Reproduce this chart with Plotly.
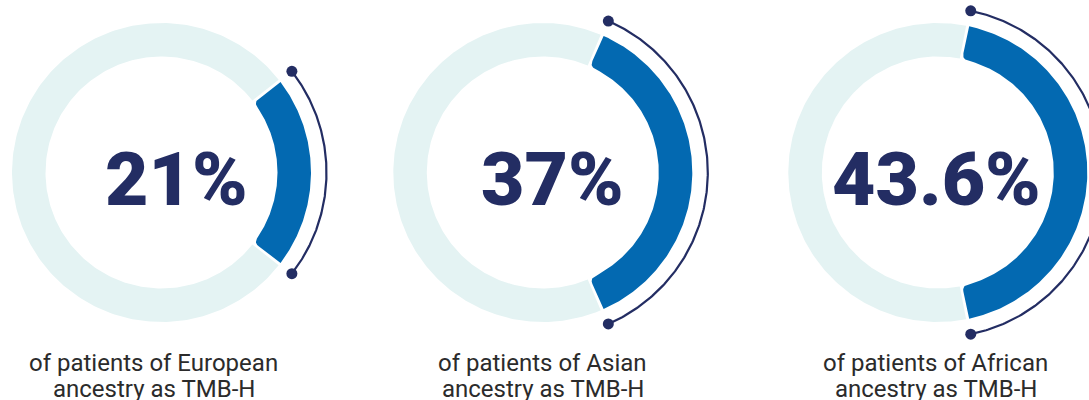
import numpy as np
import plotly.graph_objects as go

# Share of patients classed as TMB-H, by ancestry
groups = ["European", "Asian", "African"]
percents = [21, 37, 43.6]
value_labels = ["21%", "37%", "43.6%"]
caption_line1 = ["of patients of European", "of patients of Asian", "of patients of African"]
caption_line2 = ["ancestry as TMB-H", "ancestry as TMB-H", "ancestry as TMB-H"]

# Layout (pixel space, y grows downwards)
W, H = 1089, 400
centers_x = [161.5, 542.8, 937.8]
center_y = 172.5
R_OUT, R_IN = 149.5, 116.0
R_BRACKET = 165.0
GAP_DEG = 0.6
CORNER = 6.0
number_dx = [15, 10, -1]
caption_dx = [-8, 0, -2]

TRACK = "#e4f3f3"
BLUE = "#0369b1"
NAVY = "#232d63"
TEXT = "#2b2b2b"


def pt(cx, cy, r, deg):
    t = np.radians(deg)
    return cx + r * np.cos(t), cy - r * np.sin(t)


def ring_sector(cx, cy, r0, r1, a0, a1, n=240):
    a = np.linspace(a0, a1, n)
    xo, yo = pt(cx, cy, r1, a)
    xi, yi = pt(cx, cy, r0, a[::-1])
    xs = np.concatenate([xo, xi, xo[:1]])
    ys = np.concatenate([yo, yi, yo[:1]])
    return xs, ys


def quad(p0, c, p1, n=12):
    s = np.linspace(0, 1, n)[:, None]
    p0, c, p1 = map(np.asarray, (p0, c, p1))
    pts = (1 - s) ** 2 * p0 + 2 * (1 - s) * s * c + s ** 2 * p1
    return pts[:, 0], pts[:, 1]


def value_sector(cx, cy, half):
    # outer edge square, inner corners rounded
    a = np.linspace(-half, half, 200)
    xo, yo = pt(cx, cy, R_OUT, a)
    d = np.degrees(CORNER / R_IN)
    top = quad(pt(cx, cy, R_IN + CORNER, half), pt(cx, cy, R_IN, half),
               pt(cx, cy, R_IN, half - d))
    ai = np.linspace(half - d, -half + d, 200)
    xi, yi = pt(cx, cy, R_IN, ai)
    bot = quad(pt(cx, cy, R_IN, -half + d), pt(cx, cy, R_IN, -half),
               pt(cx, cy, R_IN + CORNER, -half))
    xs = np.concatenate([xo, top[0], xi, bot[0], xo[:1]])
    ys = np.concatenate([yo, top[1], yi, bot[1], yo[:1]])
    return xs, ys


fig = go.Figure()
annotations = []

for i, pct in enumerate(percents):
    cx, cy = centers_x[i], center_y
    half = pct / 100 * 180.0

    # background track (the remaining share)
    xs, ys = ring_sector(cx, cy, R_IN, R_OUT, half + GAP_DEG, 360 - half - GAP_DEG)
    fig.add_trace(go.Scatter(x=xs, y=ys, mode="lines", fill="toself",
                             fillcolor=TRACK, line=dict(width=0),
                             hoverinfo="skip", showlegend=False))

    # highlighted share
    xs, ys = value_sector(cx, cy, half - GAP_DEG)
    fig.add_trace(go.Scatter(x=xs, y=ys, mode="lines", fill="toself",
                             fillcolor=BLUE, line=dict(width=0),
                             hoverinfo="skip", showlegend=False))

    # bracket arc with end dots
    a = np.linspace(-half, half, 200)
    bx, by = pt(cx, cy, R_BRACKET, a)
    fig.add_trace(go.Scatter(x=bx, y=by, mode="lines",
                             line=dict(color=NAVY, width=2.2),
                             hoverinfo="skip", showlegend=False))
    ex, ey = pt(cx, cy, R_BRACKET, np.array([-half, half]))
    fig.add_trace(go.Scatter(x=ex, y=ey, mode="markers",
                             marker=dict(color=NAVY, size=11),
                             hoverinfo="skip", showlegend=False, cliponaxis=True))

    annotations.append(dict(
        x=cx + number_dx[i], y=178.5, text=value_labels[i], showarrow=False,
        xanchor="center", yanchor="middle",
        font=dict(family="Roboto", size=75, color=NAVY, weight=900)))
    annotations.append(dict(
        x=cx + caption_dx[i], y=363, text=caption_line1[i], showarrow=False,
        xanchor="center", yanchor="middle",
        font=dict(family="Roboto", size=24, color=TEXT)))
    annotations.append(dict(
        x=cx + caption_dx[i], y=388.5, text=caption_line2[i], showarrow=False,
        xanchor="center", yanchor="middle",
        font=dict(family="Roboto", size=24, color=TEXT)))

fig.update_layout(
    width=W, height=H, margin=dict(l=0, r=0, t=0, b=0),
    paper_bgcolor="white", plot_bgcolor="white",
    xaxis=dict(range=[0, W], visible=False, fixedrange=True),
    yaxis=dict(range=[H, 0], visible=False, fixedrange=True),
    annotations=annotations,
)

fig.write_html("out.html", config={"displayModeBar": False})
